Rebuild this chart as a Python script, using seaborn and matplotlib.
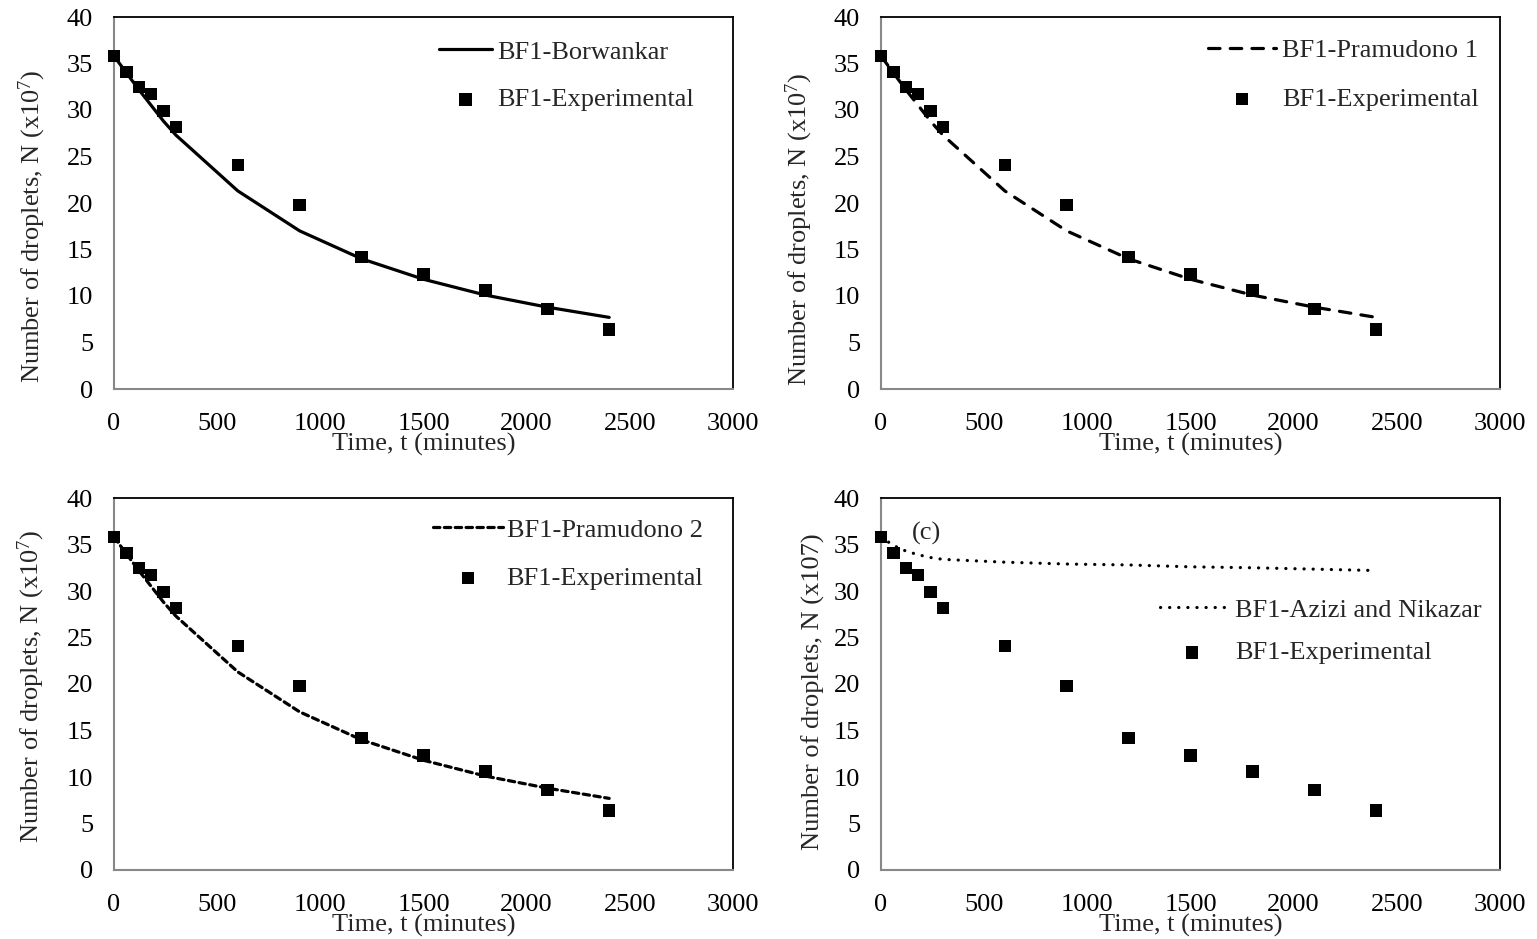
import numpy as np
import pandas as pd
import matplotlib
matplotlib.use("Agg")
import matplotlib.pyplot as plt
import seaborn as sns

sns.set_style("white")
plt.rcParams['font.family'] = ['Liberation Serif', 'DejaVu Serif']
plt.rcParams['mathtext.fontset'] = 'custom'
plt.rcParams['mathtext.rm'] = 'Liberation Serif'
plt.rcParams['mathtext.default'] = 'regular'

# ---- data ----
time_min = [0, 60, 120, 180, 240, 300, 600, 900, 1200, 1500, 1800, 2100, 2400]
experimental = [35.8, 34.1, 32.5, 31.7, 29.9, 28.2, 24.1, 19.8, 14.2, 12.3, 10.6, 8.6, 6.4]
borwankar = [35.8, 34.0, 32.2, 30.5, 28.8, 27.3, 21.3, 17.0, 14.0, 11.8, 10.1, 8.8, 7.7]
pramudono1 = [35.8, 34.0, 32.2, 30.5, 28.8, 27.3, 21.3, 17.0, 14.0, 11.8, 10.1, 8.8, 7.7]
pramudono2 = [35.8, 34.0, 32.2, 30.5, 28.8, 27.3, 21.3, 17.0, 14.0, 11.8, 10.1, 8.8, 7.7]
azizi_nikazar = [35.8, 34.9, 34.3, 33.9, 33.6, 33.4, 33.1, 32.9, 32.8, 32.6, 32.5, 32.35, 32.2]

model_labels = ["BF1-Borwankar", "BF1-Pramudono 1", "BF1-Pramudono 2", "BF1-Azizi and Nikazar"]
exp_label = "BF1-Experimental"
xticks = [0, 500, 1000, 1500, 2000, 2500, 3000]
yticks = [0, 5, 10, 15, 20, 25, 30, 35, 40]
xlabel = "Time, t (minutes)"
ylabel_sup = r"Number of droplets, N (x10$^{7}$)"
ylabel_plain = "Number of droplets, N (x107)"

df_exp = pd.DataFrame({"t": time_min, "N": experimental})
models = [borwankar, pramudono1, pramudono2, azizi_nikazar]

fig = plt.figure(figsize=(15.37, 9.39), dpi=100)
W, H = 1537, 939
def axrect(l, r, t, b):
    return [l / W, 1 - b / H, (r - l) / W, (b - t) / H]

rects = [axrect(114, 733, 17, 389), axrect(881, 1500, 17, 389),
         axrect(114, 733, 498, 870), axrect(881, 1500, 498, 870)]
dash_styles = [None, (3.6, 3.2), (2.0, 1.4), (0.05, 2.8)]
legend_anchor = [(0.525, 0.938), (0.528, 0.942), (0.515, 0.946), (0.451, 0.731)]
legend_hlen = [2.0, 2.6, 2.65, 2.4]
legend_tpad = [0.2, 0.22, 0.15, 0.45]
legend_lspace = [0.92, 0.96, 0.95, 0.73]
ylabel_coords = [(-0.106, 0.438), (-0.107, 0.430), (-0.109, 0.495), (-0.091, 0.478)]
ylabels = [ylabel_sup, ylabel_sup, ylabel_sup, ylabel_plain]

FS = 19
for i, rect in enumerate(rects):
    ax = fig.add_axes(rect)
    df_m = pd.DataFrame({"t": time_min, "N": models[i]})
    sns.lineplot(data=df_m, x="t", y="N", ax=ax, color="black", linewidth=2.3,
                 label=model_labels[i])
    line = ax.lines[-1]
    if dash_styles[i] is not None:
        line.set_dashes(dash_styles[i])
        line.set_dash_capstyle("round")
    sns.scatterplot(data=df_exp, x="t", y="N", ax=ax, color="black", marker="s",
                    s=80, edgecolor="none", linewidth=0, label=exp_label, zorder=3)
    ax.set_xlim(0, 3000)
    ax.set_ylim(0, 40)
    ax.set_xticks(xticks)
    ax.set_yticks(yticks)
    ax.tick_params(axis="both", labelsize=FS, labelcolor="black", color="#888888",
                   direction="out", length=5, width=1.2)
    ax.tick_params(axis="x", pad=12)
    ax.tick_params(axis="y", pad=10)
    ax.set_xlabel(xlabel, fontsize=FS, labelpad=-1.5)
    ax.set_ylabel(ylabels[i], fontsize=FS)
    ax.yaxis.set_label_coords(*ylabel_coords[i])
    for s in ["left", "bottom"]:
        ax.spines[s].set_color("#888888")
        ax.spines[s].set_linewidth(1.5)
    for s in ["top", "right"]:
        ax.spines[s].set_color("black")
        ax.spines[s].set_linewidth(1.3)
    for c in ax.collections:
        c.set_clip_on(False)
    for l in ax.lines:
        l.set_clip_on(False)
    ax.legend(loc="upper left", bbox_to_anchor=legend_anchor[i], frameon=False,
              fontsize=FS, handlelength=legend_hlen[i], handletextpad=legend_tpad[i],
              labelspacing=legend_lspace[i], borderaxespad=0, borderpad=0)
    if i == 3:
        ax.text(150, 36.2, "(c)", fontsize=FS, ha="left", va="center")

fig.savefig("out.png", dpi=100)
